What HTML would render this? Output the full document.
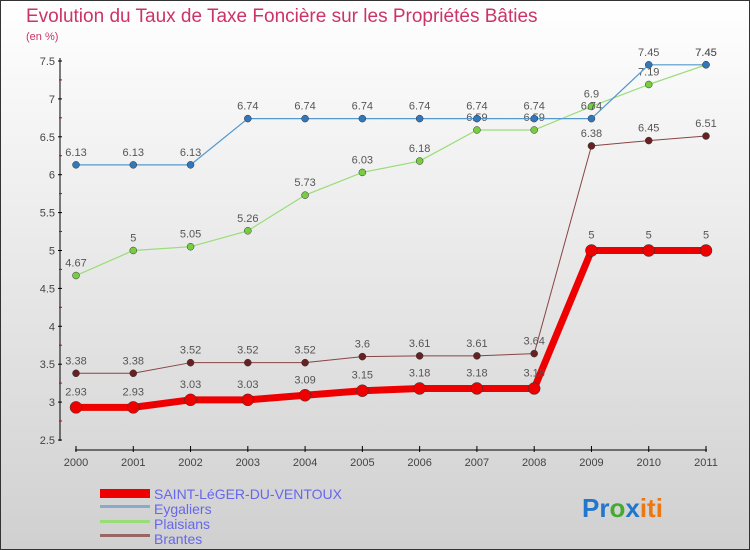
<!DOCTYPE html>
<html><head><meta charset="utf-8"><style>
body{margin:0}
svg{display:block;font-family:"Liberation Sans",sans-serif}
</style></head><body>
<svg id="c" width="750" height="550" viewBox="0 0 750 550">
<defs><linearGradient id="bg" x1="0" y1="0" x2="0" y2="1"><stop offset="0" stop-color="#ffffff"/><stop offset="1" stop-color="#d0d0d0"/></linearGradient></defs>
<rect x="0.5" y="0.5" width="749" height="549" fill="url(#bg)" stroke="#333"/>
<text x="26" y="22" font-size="19" fill="#cc3366">Evolution du Taux de Taxe Foncière sur les Propriétés Bâties</text>
<text x="26" y="40" font-size="11" fill="#cc3366">(en %)</text>
<g id="axes"></g>
<g id="series"></g>
<g>
<rect x="100" y="489" width="50" height="9" fill="#e00"/>
<text x="154" y="499" font-size="14" fill="#6666ee">SAINT-LéGER-DU-VENTOUX</text>
<rect x="100" y="505" width="50" height="3" fill="#88aacc"/>
<text x="154" y="514" font-size="14" fill="#6666ee">Eygaliers</text>
<rect x="100" y="520" width="50" height="3" fill="#99dd77"/>
<text x="154" y="529" font-size="14" fill="#6666ee">Plaisians</text>
<rect x="100" y="534" width="50" height="3" fill="#996666"/>
<text x="154" y="544" font-size="14" fill="#6666ee">Brantes</text>
</g>
<text x="582" y="517" font-size="26" font-weight="bold"><tspan fill="#2277cc">Pr</tspan><tspan fill="#44aa33">o</tspan><tspan fill="#2277cc">x</tspan><tspan fill="#ee7711">iti</tspan></text>
</svg>
<script>
const years=[2000,2001,2002,2003,2004,2005,2006,2007,2008,2009,2010,2011];
const yTicks=[2.5,3,3.5,4,4.5,5,5.5,6,6.5,7,7.5];
const eygaliers=[6.13,6.13,6.13,6.74,6.74,6.74,6.74,6.74,6.74,6.74,7.45,7.45];
const plaisians=[4.67,5,5.05,5.26,5.73,6.03,6.18,6.59,6.59,6.9,7.19,7.45];
const brantes=[3.38,3.38,3.52,3.52,3.52,3.6,3.61,3.61,3.64,6.38,6.45,6.51];
const saintLeger=[2.93,2.93,3.03,3.03,3.09,3.15,3.18,3.18,3.18,5,5,5];
const NS='http://www.w3.org/2000/svg';
const xS=i=>76+i*(630/11);
const yS=v=>440-(v-2.5)*(379/5);
function mk(t,a,p){const e=document.createElementNS(NS,t);for(const k in a)e.setAttribute(k,a[k]);p.appendChild(e);return e;}
const ax=document.getElementById('axes');
let e=mk('line',{x1:60,y1:58,x2:60,y2:441,stroke:'#000','stroke-width':1},ax);


yTicks.forEach(v=>{const y=yS(v);
 mk('line',{x1:58,y1:y,x2:62,y2:y,stroke:'#000'},ax);
 const t=mk('text',{x:55,y:y+4,'font-size':11,fill:'#444','text-anchor':'end'},ax);t.textContent=String(v);
 
 
 if(v<7.5){mk('line',{x1:59,y1:y-19,x2:62,y2:y-19,stroke:'#c00'},ax);}
});
e=mk('line',{x1:75,y1:450,x2:707,y2:450,stroke:'#000'},ax);


years.forEach((yr,i)=>{const x=xS(i);
 mk('line',{x1:x,y1:446,x2:x,y2:452,stroke:'#000'},ax);
 const t=mk('text',{x:x,y:466,'font-size':11,fill:'#444','text-anchor':'middle'},ax);t.textContent=yr;
 
 
});
const sg=document.getElementById('series');
function series(name,vals,line,dot,w,r,lbl){
 const g=mk('g',{},sg);
 
 
 const pl=mk('polyline',{points:vals.map((v,i)=>xS(i)+','+yS(v)).join(' '),fill:'none',stroke:line,'stroke-width':w,'stroke-linejoin':'round'},g);
 
 
 vals.forEach((v,i)=>{
  const c=mk('circle',{cx:xS(i),cy:yS(v),r:r,fill:dot,stroke:'#333','stroke-width':0.5},g);
  
  
  const t=mk('text',{x:xS(i),y:yS(v)-lbl,'font-size':11,fill:'#555','text-anchor':'middle'},g);t.textContent=String(v);
  
  
 });
}
series('brantes',brantes,'#884444','#662222',1,3.5,9);
series('plaisians',plaisians,'#99dd77','#77cc44',1.2,3.5,9);
series('eygaliers',eygaliers,'#5599cc','#3377bb',1.2,3.5,9);
series('saint-leger',saintLeger,'#ee0000','#ee0000',7,6,12);
</script>
</body></html>
